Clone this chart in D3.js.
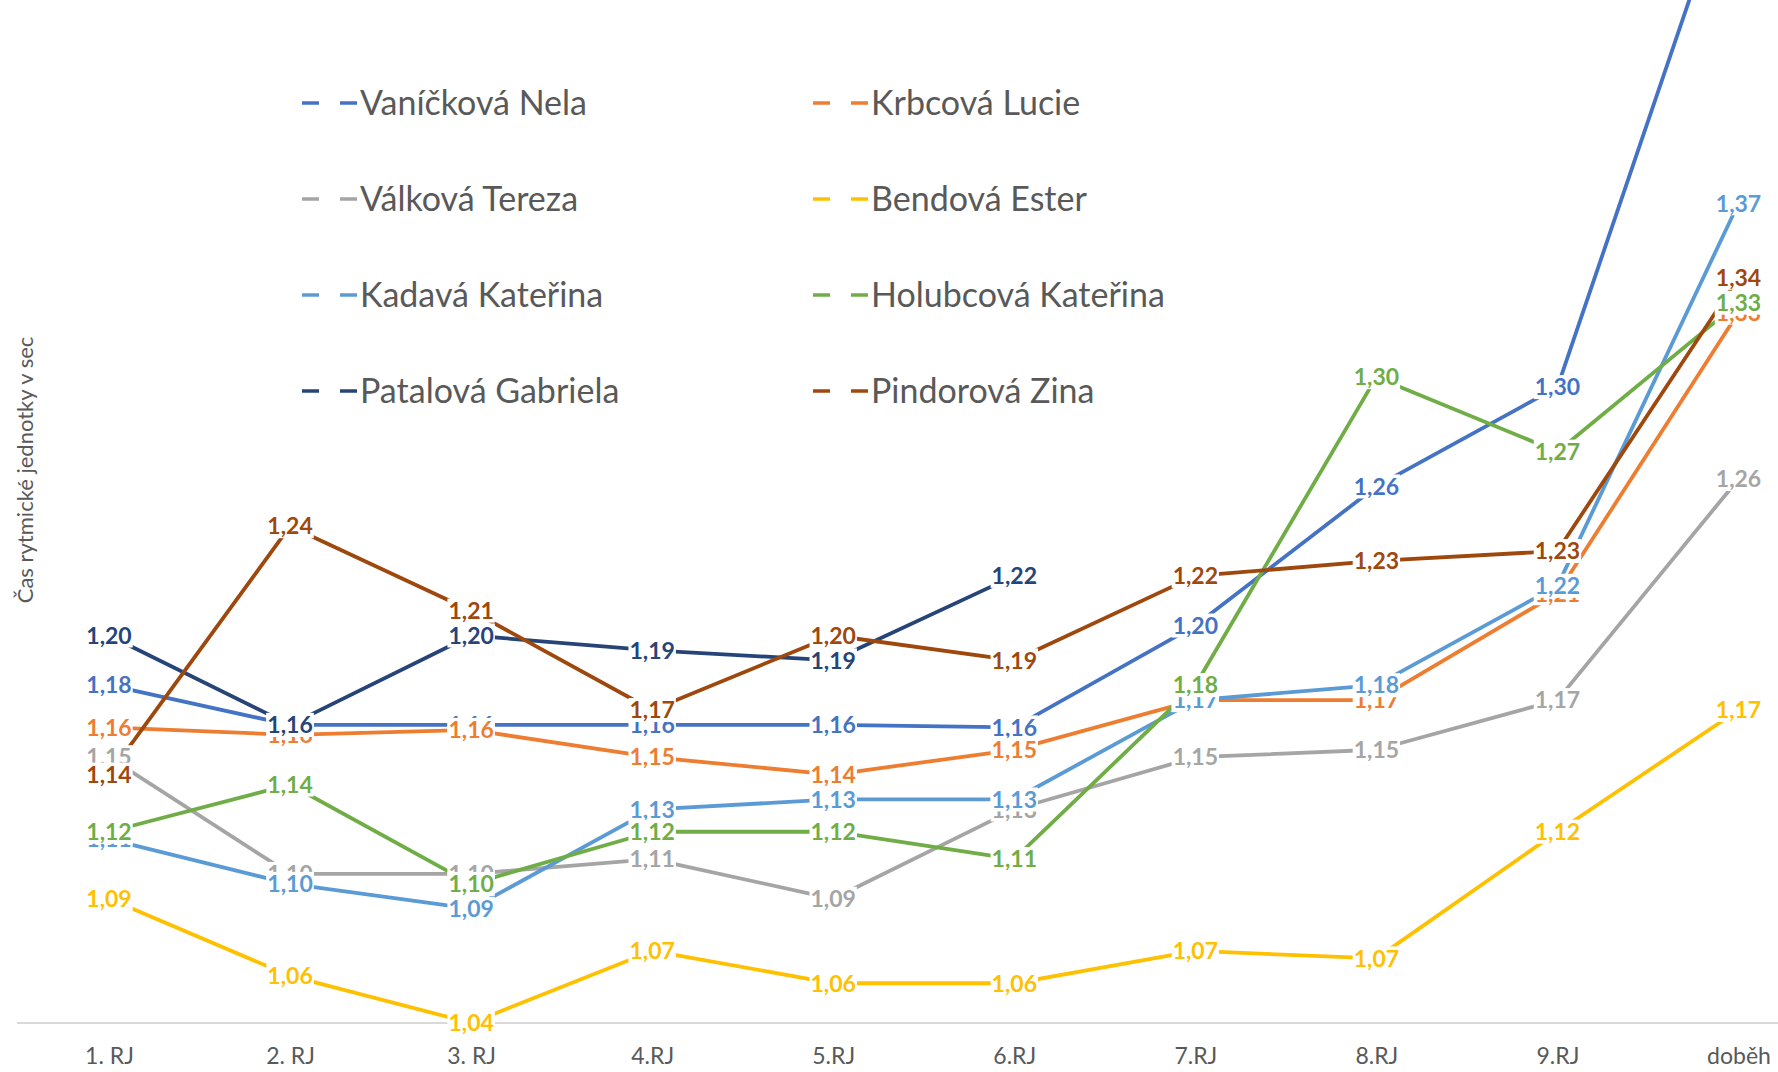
<!DOCTYPE html>
<html><head><meta charset="utf-8">
<script src="https://cdn.jsdelivr.net/npm/d3@7"></script>
<style>html,body{margin:0;padding:0;background:#fff;overflow:hidden}</style>
</head><body>
<svg id="chart" width="1778" height="1072"></svg>
<script>
const categories = ["1. RJ","2. RJ","3. RJ","4.RJ","5.RJ","6.RJ","7.RJ","8.RJ","9.RJ","doběh"];
const seriesNames = ["Vaníčková Nela","Krbcová Lucie","Válková Tereza","Bendová Ester","Kadavá Kateřina","Holubcová Kateřina","Patalová Gabriela","Pindorová Zina"];
const seriesColors = ["#4472C4","#ED7D31","#A5A5A5","#FFC000","#5B9BD5","#70AD47","#264478","#9E480E"];
const vanickova = [1.176,1.160,1.160,1.160,1.160,1.159,1.200,1.256,1.296,1.510];
const krbcova   = [1.159,1.156,1.158,1.147,1.140,1.150,1.170,1.170,1.213,1.326];
const valkova   = [1.147,1.100,1.100,1.106,1.090,1.126,1.147,1.150,1.170,1.259];
const bendova   = [1.090,1.059,1.040,1.069,1.056,1.056,1.069,1.066,1.117,1.166];
const kadava    = [1.114,1.096,1.086,1.126,1.130,1.130,1.170,1.176,1.216,1.370];
const holubcova = [1.117,1.136,1.096,1.117,1.117,1.106,1.176,1.300,1.270,1.330];
const patalova  = [1.196,1.160,1.196,1.190,1.186,1.220,null,null,null,null];
const pindorova = [1.140,1.240,1.206,1.166,1.196,1.186,1.220,1.226,1.230,1.340];
const seriesValues = [vanickova,krbcova,valkova,bendova,kadava,holubcova,patalova,pindorova];
const yAxisTitle = "Čas rytmické jednotky v sec";

const svg = d3.select("#chart");
const x = d3.scalePoint().domain(categories).range([109, 1738.5]);
const y = d3.scaleLinear().domain([1.04, 1.45]).range([1023, 1023 - 0.41*2484]);
const fmt = v => d3.format(".2f")(v).replace(".", ",");
const FONT = "Lato, 'Open Sans', sans-serif";

// x axis line
svg.append("line").attr("x1", 17).attr("x2", 1778).attr("y1", y(1.04)).attr("y2", y(1.04))
  .attr("stroke", "#D9D9D9").attr("stroke-width", 2);

// category labels
const xAxis = d3.axisBottom(x).tickSize(0).tickPadding(0);
const gx = svg.append("g").attr("transform", `translate(0,${y(1.04)})`).call(xAxis);
gx.select(".domain").remove();
gx.selectAll("text").attr("y", 33).attr("dy", "0.35em")
  .attr("fill", "#595959").style("font-family", FONT).style("font-size", "23px");

// y axis title
svg.append("text").attr("transform", "translate(25,470) rotate(-90)")
  .attr("text-anchor", "middle").attr("dy", "0.35em")
  .attr("fill", "#595959").style("font-family", FONT).style("font-size", "22px")
  .text(yAxisTitle);

// lines
const line = d3.line().defined(d => d.v != null).x(d => x(d.c)).y(d => y(d.v));
const data = seriesNames.map((n, i) => ({name: n, color: seriesColors[i],
  pts: categories.map((c, j) => ({c, v: seriesValues[i][j]}))}));
svg.append("g").selectAll("path").data(data).join("path")
  .attr("d", d => line(d.pts)).attr("fill", "none")
  .attr("stroke", d => d.color).attr("stroke-width", 3.8).attr("stroke-linejoin", "round");

// data labels (white boxes)
const lg = svg.append("g");
data.forEach(s => {
  s.pts.filter(p => p.v != null).forEach(p => {
    const g = lg.append("g").attr("transform", `translate(${x(p.c)},${y(p.v)})`);
    const r = g.append("rect").attr("fill", "#fff");
    const t = g.append("text").attr("text-anchor", "middle").attr("dy", "0.36em")
      .attr("fill", s.color).style("font-family", FONT)
      .style("font-weight", "700").style("font-size", "23px").text(fmt(p.v));
    const w = t.node().getComputedTextLength();
    r.attr("x", -w/2 - 1).attr("y", -12).attr("width", w + 2).attr("height", 24);
  });
});

// legend
const legRows = [103, 199, 295, 391];
const legCols = [302, 813];
const leg = svg.append("g");
data.forEach((s, i) => {
  const cx = legCols[i % 2], cy = legRows[Math.floor(i / 2)];
  const g = leg.append("g").attr("transform", `translate(${cx},${cy})`);
  g.append("line").attr("x1", 0).attr("x2", 17).attr("stroke", s.color).attr("stroke-width", 3.5);
  g.append("line").attr("x1", 38).attr("x2", 55).attr("stroke", s.color).attr("stroke-width", 3.5);
  g.append("text").attr("x", 58).attr("dy", "0.35em").attr("fill", "#595959")
    .style("font-family", FONT).style("font-size", "34px").text(s.name);
});
</script>
</body></html>
